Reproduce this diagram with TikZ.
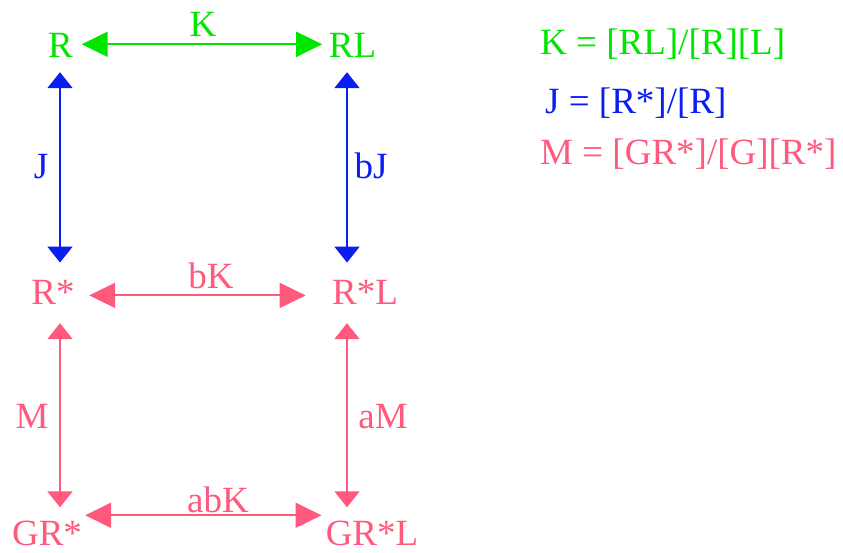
\documentclass[tikz,border=0pt]{standalone}
\usepackage{fontspec}
\setmainfont{Liberation Serif}
\usetikzlibrary{arrows.meta,calc}
\definecolor{kgreen}{RGB}{0,230,0}
\definecolor{jblue}{RGB}{10,30,240}
\definecolor{mpink}{RGB}{255,90,125}
\tikzset{
  txt/.style={inner sep=0pt, anchor=base, font=\fontsize{37}{40}\selectfont},
  leg/.style={inner sep=0pt, anchor=base west, font=\fontsize{37}{40}\selectfont},
  harr/.style={line width=2pt, {Triangle[length=26pt,width=25pt]}-{Triangle[length=26pt,width=25pt]}},
  varr/.style={line width=2pt, {Triangle[length=16pt,width=25pt]}-{Triangle[length=16pt,width=25pt]}}
}
\begin{document}
\begin{tikzpicture}[x=1pt,y=-1pt]
\useasboundingbox (0,0) rectangle (843,553);
% species nodes
\node[txt, text=kgreen] (R) at (60.5,58) {R};
\node[txt, text=kgreen] (RL) at (352.5,58) {RL};
\node[txt, text=mpink] (Rs) at (53,305) {R*};
\node[txt, text=mpink] (RsL) at (365,305) {R*L};
\node[txt, text=mpink] (GRs) at (47,545) {GR*};
\node[txt, text=mpink] (GRsL) at (372,545) {GR*L};
% edge labels
\node[txt, text=kgreen] (lK) at (203,37) {K};
\node[txt, text=mpink] (lbK) at (211,288) {bK};
\node[txt, text=mpink] (labK) at (218,512) {abK};
\node[txt, text=jblue] (lJ) at (41,179) {J};
\node[txt, text=jblue] (lbJ) at (371,179) {bJ};
\node[txt, text=mpink] (lM) at (32,428) {M};
\node[txt, text=mpink] (laM) at (383,428) {aM};
% legend
\node[leg, text=kgreen] (legK) at (540,55) {K = [RL]/[R][L]};
\node[leg, text=jblue] (legJ) at (545,114) {J = [R*]/[R]};
\node[leg, text=mpink] (legM) at (540,165) {M = [GR*]/[G][R*]};
% horizontal arrows
\draw[harr, kgreen] ($(R.east)+(8.7,-1.6)$) -- ($(RL.west)+(-6.5,-1.6)$);
\draw[harr, mpink] ($(Rs.east)+(14.4,2.5)$) -- ($(RsL.west)+(-26.3,2.5)$);
\draw[harr, mpink] ($(GRs.north east)+(3,-5)$) -- ($(GRsL.north west)+(-4,-5)$);
% vertical arrows
\draw[varr, jblue] ($(R.south)+(-0.5,14)$) -- ($(R.south |- Rs.north)+(-0.5,-18)$);
\draw[varr, jblue] ($(RL.south)+(-5.5,14)$) -- ($(RL.south |- RsL.north)+(-5.5,-18)$);
\draw[varr, mpink] ($(R.south |- Rs.south)+(-0.5,18)$) -- ($(R.south |- GRs.north)+(-0.5,-13)$);
\draw[varr, mpink] ($(RL.south |- RsL.south)+(-5.5,18)$) -- ($(RL.south |- GRsL.north)+(-5.5,-13)$);
\end{tikzpicture}
\end{document}
